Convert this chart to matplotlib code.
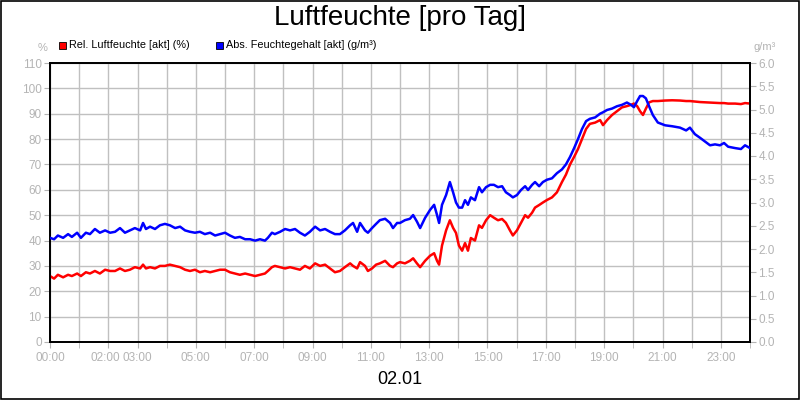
import matplotlib
matplotlib.use("Agg")
import matplotlib.pyplot as plt
from matplotlib.patches import Rectangle
from matplotlib.transforms import ScaledTranslation

plt.rcParams['font.family'] = ['Liberation Sans', 'DejaVu Sans']

title = "Luftfeuchte [pro Tag]"
date_label = "02.01"
rel_name = "Rel. Luftfeuchte [akt] (%)"
abs_name = "Abs. Feuchtegehalt [akt] (g/m³)"
left_unit = "%"
right_unit = "g/m³"

hours = [0.00, 0.14, 0.27, 0.45, 0.62, 0.75, 0.93, 1.06, 1.23, 1.37,
         1.54, 1.71, 1.89, 2.06, 2.23, 2.40, 2.57, 2.74, 2.91, 3.09,
         3.19, 3.29, 3.43, 3.60, 3.77, 3.94, 4.11, 4.29, 4.46, 4.63,
         4.80, 4.97, 5.14, 5.31, 5.49, 5.66, 5.83, 6.00, 6.17, 6.34,
         6.51, 6.69, 6.86, 7.03, 7.20, 7.37, 7.47, 7.61, 7.71, 7.89,
         8.06, 8.23, 8.40, 8.57, 8.74, 8.91, 9.09, 9.26, 9.43, 9.60,
         9.77, 9.94, 10.11, 10.29, 10.39, 10.53, 10.63, 10.80, 10.90, 11.04,
         11.18, 11.31, 11.49, 11.66, 11.76, 11.90, 12.00, 12.17, 12.34, 12.45,
         12.58, 12.69, 12.86, 13.03, 13.17, 13.27, 13.34, 13.44, 13.58, 13.71,
         13.82, 13.92, 14.02, 14.13, 14.23, 14.33, 14.43, 14.57, 14.71, 14.81,
         14.95, 15.09, 15.22, 15.36, 15.50, 15.63, 15.77, 15.87, 16.01, 16.15,
         16.29, 16.39, 16.53, 16.63, 16.77, 16.90, 17.04, 17.21, 17.38, 17.55,
         17.69, 17.83, 17.97, 18.10, 18.24, 18.38, 18.51, 18.69, 18.86, 18.96,
         19.10, 19.27, 19.44, 19.61, 19.78, 19.92, 20.02, 20.13, 20.23, 20.33,
         20.43, 20.54, 20.67, 20.84, 21.09, 21.33, 21.60, 21.81, 21.94, 22.11,
         22.29, 22.46, 22.63, 22.80, 22.97, 23.11, 23.25, 23.49, 23.69, 23.83,
         24.00]

rel_humidity = [26, 25, 26.5, 25.5, 26.5, 26, 27, 26, 27.5, 27,
                28, 27, 28.5, 28, 28, 29, 28, 28.5, 29.5, 29,
                30.5, 29, 29.5, 29, 30, 30, 30.5, 30, 29.5, 28.5,
                28, 28.5, 27.5, 28, 27.5, 28, 28.5, 28.5, 27.5, 27,
                26.5, 27, 26.5, 26, 26.5, 27, 28, 29.5, 30, 29.5,
                29, 29.5, 29, 28.5, 30, 29, 31, 30, 30.5, 29,
                27.5, 28, 29.5, 31, 30, 29, 31.5, 30, 28, 29,
                30.5, 31, 32, 30, 29.5, 31, 31.5, 31, 32, 33,
                31, 29.5, 32, 34, 35, 32, 30.5, 38, 44, 48,
                45, 43, 38, 36, 39, 36, 41, 40, 46, 45,
                48, 50, 49, 48, 48.5, 47, 44, 42, 44, 47,
                50, 49, 51, 53, 54, 55, 56, 57, 59, 63,
                66, 70, 73, 76, 80, 84, 86, 86.5, 87.5, 85.5,
                87.5, 89.5, 91, 92.5, 93, 93.5, 94, 93, 91, 89.5,
                92, 94.5, 95, 95, 95.2, 95.3, 95.2, 95, 95, 94.8,
                94.6, 94.5, 94.4, 94.3, 94.2, 94.2, 94, 94, 93.8, 94.2,
                94]

abs_humidity = [2.24, 2.21, 2.29, 2.24, 2.32, 2.26, 2.35, 2.24, 2.35, 2.32,
                2.43, 2.35, 2.40, 2.35, 2.37, 2.45, 2.35, 2.40, 2.45, 2.40,
                2.56, 2.43, 2.48, 2.43, 2.51, 2.54, 2.51, 2.45, 2.48, 2.40,
                2.37, 2.35, 2.37, 2.32, 2.35, 2.29, 2.32, 2.35, 2.29, 2.24,
                2.26, 2.21, 2.21, 2.18, 2.21, 2.18, 2.24, 2.35, 2.32, 2.37,
                2.43, 2.40, 2.43, 2.35, 2.29, 2.37, 2.48, 2.40, 2.43, 2.37,
                2.32, 2.32, 2.40, 2.51, 2.56, 2.37, 2.56, 2.40, 2.35, 2.45,
                2.54, 2.62, 2.65, 2.56, 2.45, 2.56, 2.56, 2.62, 2.65, 2.73,
                2.59, 2.45, 2.67, 2.84, 2.95, 2.73, 2.56, 2.95, 3.16, 3.44,
                3.22, 3.00, 2.89, 2.89, 3.05, 2.95, 3.11, 3.05, 3.33, 3.22,
                3.33, 3.38, 3.38, 3.33, 3.35, 3.22, 3.16, 3.11, 3.16, 3.27,
                3.35, 3.27, 3.38, 3.44, 3.35, 3.44, 3.49, 3.52, 3.63, 3.71,
                3.82, 3.98, 4.17, 4.36, 4.58, 4.75, 4.80, 4.83, 4.91, 4.94,
                4.99, 5.02, 5.07, 5.10, 5.15, 5.10, 5.05, 5.18, 5.29, 5.29,
                5.24, 5.07, 4.88, 4.72, 4.66, 4.64, 4.61, 4.55, 4.61, 4.47,
                4.39, 4.31, 4.23, 4.25, 4.23, 4.28, 4.20, 4.17, 4.15, 4.23,
                4.17]

xtick_hours = [0, 2, 3, 5, 7, 9, 11, 13, 15, 17, 19, 21, 23]
xtick_labels = ["00:00", "02:00", "03:00", "05:00", "07:00", "09:00", "11:00",
                "13:00", "15:00", "17:00", "19:00", "21:00", "23:00"]
left_ticks = list(range(0, 111, 10))
right_ticks = [0.0, 0.5, 1.0, 1.5, 2.0, 2.5, 3.0, 3.5, 4.0, 4.5, 5.0, 5.5, 6.0]

gray = "#b4b4b4"
grid = "#c0c0c0"

fig = plt.figure(figsize=(8, 4), dpi=100)
fig.patch.set_facecolor("white")
fig.patches.append(Rectangle((0.0008, 0.0015), 0.9984, 0.997, transform=fig.transFigure,
                             fill=False, edgecolor="black", linewidth=1.2))

ax = fig.add_axes([50/800, 58/400, 700/800, 279/400])
ax.set_xlim(0, 24)
ax.set_ylim(0, 110)
ax.set_yticks(left_ticks)
ax.set_yticklabels([str(v) for v in left_ticks])
ax.set_xticks(xtick_hours)
ax.set_xticklabels(xtick_labels)
ax.set_xticks(range(0, 25), minor=True)
ax.tick_params(axis="x", which="both", length=4, color=gray, direction="out",
               pad=3, labelsize=8.5, labelcolor=gray)
ax.tick_params(axis="y", length=4, color=gray, labelsize=8.5, labelcolor=gray, pad=2)
ax.grid(True, which="major", color=grid, linewidth=1)
ax.grid(True, which="minor", axis="x", color=grid, linewidth=1)
ax.set_axisbelow(True)
for s in ax.spines.values():
    s.set_color("black")
    s.set_linewidth(1.3)

# nudge the crowded 02:00 label left, as in the original
lab = ax.get_xticklabels()[1]
lab.set_transform(lab.get_transform() + ScaledTranslation(-3/100, 0, fig.dpi_scale_trans))

ax.plot(hours, rel_humidity, color="#ff0000", linewidth=1.8, zorder=3)

ax2 = ax.twinx()
ax2.set_ylim(0, 6)
ax2.set_yticks(right_ticks)
ax2.set_yticklabels([f"{v:.1f}" for v in right_ticks])
ax2.tick_params(axis="y", length=4, color=gray, labelsize=8.5, labelcolor=gray, pad=2)
for s in ax2.spines.values():
    s.set_color("black")
    s.set_linewidth(1.3)
ax2.plot(hours, abs_humidity, color="#0000ff", linewidth=1.8, zorder=3)

fig.text(0.5, 1 - 18/400, title, ha="center", va="center", fontsize=20, color="black")
fig.text(0.5, 1 - 380/400, date_label, ha="center", va="center", fontsize=13, color="black")
fig.text(43/800, 1 - 48/400, left_unit, ha="center", va="center", fontsize=8, color=gray)
fig.text(765/800, 1 - 47/400, right_unit, ha="center", va="center", fontsize=8, color=gray)

# legend
for xs, col, label in [(59, "#ff0000", rel_name), (216, "#0000ff", abs_name)]:
    fig.patches.append(Rectangle((xs/800, 1 - 49/400), 7/800, 7/400, transform=fig.transFigure,
                                 facecolor=col, edgecolor="black", linewidth=0.6))
    fig.text((xs + 10)/800, 1 - 45/400, label, ha="left", va="center", fontsize=7.8, color="black")

fig.savefig("out.png", dpi=100)
